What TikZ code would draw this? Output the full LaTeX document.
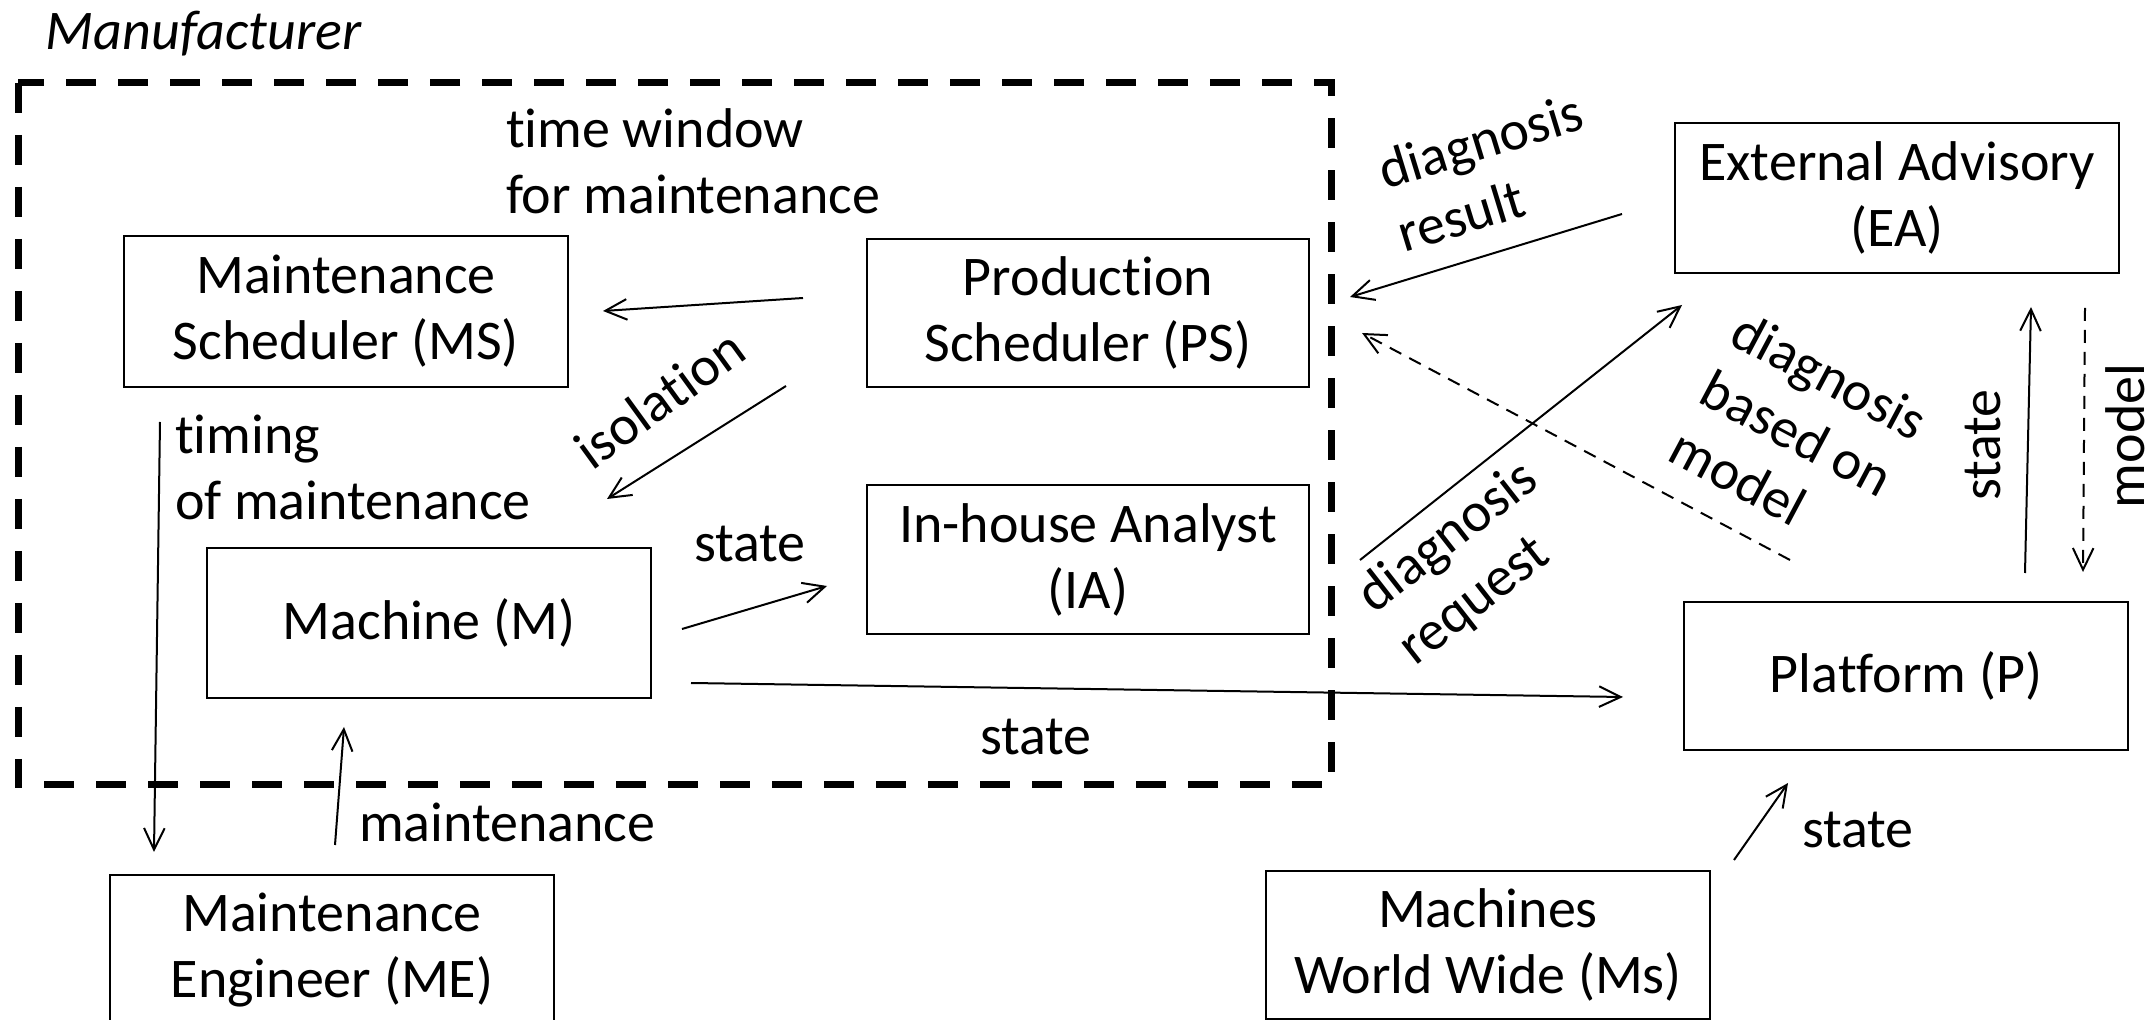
\documentclass[tikz,border=0pt]{standalone}
\usepackage{fontspec}
\setmainfont{Carlito}[Ligatures=NoCommon]
\usetikzlibrary{arrows.meta}
\begin{document}
\begin{tikzpicture}[x=0.5pt,y=-0.5pt,
  every node/.style={font=\fontsize{28}{33}\selectfont, inner sep=0pt, outer sep=0pt},
  box/.style={draw, line width=1.35pt, align=center},
  lbl/.style={align=left},
  arr/.style={line width=1pt, -{Straight Barb[length=10.8pt,width=10.3pt]}},
  darr/.style={arr, dash pattern=on 6.5pt off 4.5pt},
  mfg/.style={line width=3.5pt, dash pattern=on 15pt off 11pt}
]
\useasboundingbox (0,0) rectangle (2148,1020);

% manufacturer boundary
\node[anchor=base west, font=\fontsize{28}{33}\selectfont\itshape] (mfglabel) at (46,50) {Manufacturer};
\draw[mfg] (18,83) rectangle (1331,785);

% boxes
\node[box, minimum width=222pt, minimum height=75.5pt] (MS) at (346,311.5) {Maintenance\\Scheduler (MS)};
\node[box, minimum width=221pt, minimum height=74pt] (PS) at (1088,313) {Production\\Scheduler (PS)};
\node[box, minimum width=221pt, minimum height=74.5pt] (IA) at (1088,559.5) {In-house Analyst\\(IA)};
\node[box, minimum width=222pt, minimum height=75pt] (M) at (429,623) {Machine (M)};
\node[box, minimum width=222pt, minimum height=75pt] (ME) at (332,950) {Maintenance\\Engineer (ME)};
\node[box, minimum width=222pt, minimum height=74pt] (Ms) at (1488,945) {Machines\\World Wide (Ms)};
\node[box, minimum width=222pt, minimum height=75pt] (EA) at (1897,198) {External Advisory\\(EA)};
\node[box, minimum width=222pt, minimum height=74pt] (P) at (1906,676) {Platform (P)};

% arrow end points
\coordinate (a1s) at (803,298);  \coordinate (a1e) at (603,311);
\coordinate (a2s) at (786,386);  \coordinate (a2e) at (607,499);
\coordinate (a3s) at (160,422);  \coordinate (a3e) at (154,852);
\coordinate (a4s) at (335,845);  \coordinate (a4e) at (344,727);
\coordinate (a5s) at (682,629);  \coordinate (a5e) at (827,586);
\coordinate (a6s) at (691,683);  \coordinate (a6e) at (1623,697);
\coordinate (a7s) at (1622,214); \coordinate (a7e) at (1350,297);
\coordinate (a8s) at (1790,560); \coordinate (a8e) at (1362,333);
\coordinate (a9s) at (1360,560); \coordinate (a9e) at (1682,305);
\coordinate (a10s) at (2025,573); \coordinate (a10e) at (2031,307);
\coordinate (a11s) at (2085,308); \coordinate (a11e) at (2083,572);
\coordinate (a12s) at (1734,860); \coordinate (a12e) at (1788,783);

% connectors
\draw[arr] (a1s) -- (a1e);
\draw[arr] (a2s) -- (a2e);
\draw[arr] (a3s) -- (a3e);
\draw[arr] (a4s) -- (a4e);
\draw[arr] (a5s) -- (a5e);
\draw[arr] (a6s) -- (a6e);
\draw[arr] (a7s) -- (a7e);
\draw[darr] (a8s) -- (a8e);
\draw[arr] (a9s) -- (a9e);
\draw[arr] (a10s) -- (a10e);
\draw[darr] (a11s) -- (a11e);
\draw[arr] (a12s) -- (a12e);

% labels
\node[lbl, anchor=west] (ltw) at (506,161) {time window\\for maintenance};
\node[anchor=base, rotate=36] (liso) at (671,414) {isolation};
\node[lbl, anchor=west] (ltim) at (175,467) {timing\\of maintenance};
\node[anchor=base west] (lst1) at (694,562) {state};
\node[anchor=base west] (lst2) at (980,755) {state};
\node[anchor=base west] (lmnt) at (359,842) {maintenance};
\node[lbl, rotate=17] (ldr) at (1490,172) {diagnosis\\result};
\node[lbl, rotate=38] (ldq) at (1469,564) {diagnosis\\request};
\node[lbl, rotate=-28] (ldb) at (1799,434) {diagnosis\\based on\\model};
\node[anchor=base, rotate=90] (lst3) at (2000,445) {state};
\node[anchor=base, rotate=90] (lmod) at (2144,436) {model};
\node[anchor=base west] (lst4) at (1802,848) {state};
\end{tikzpicture}
\end{document}
